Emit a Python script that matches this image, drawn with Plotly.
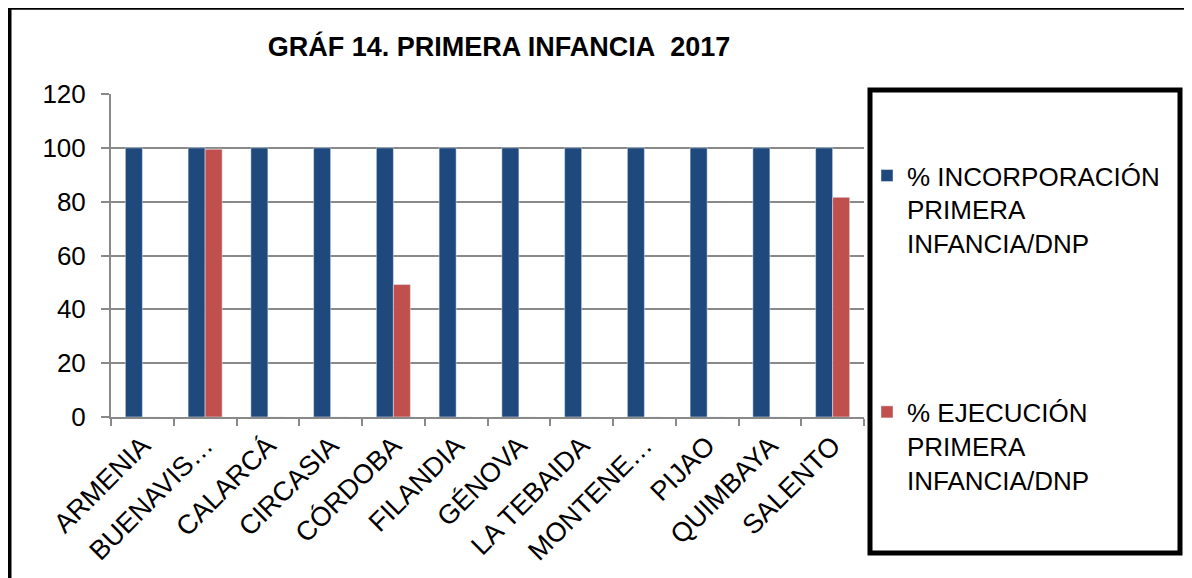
import plotly.graph_objects as go

# ---- data ----
municipios = ["ARMENIA", "BUENAVIS…", "CALARCÁ", "CIRCASIA", "CÓRDOBA", "FILANDIA",
              "GÉNOVA", "LA TEBAIDA", "MONTENE…", "PIJAO", "QUIMBAYA", "SALENTO"]
incorporacion = [100, 100, 100, 100, 100, 100, 100, 100, 100, 100, 100, 100]
ejecucion = [0, 99.5, 0, 0, 49.2, 0, 0, 0, 0, 0, 0, 81.6]
serie_names = ["% INCORPORACIÓN<br>PRIMERA<br>INFANCIA/DNP",
               "% EJECUCIÓN<br>PRIMERA<br>INFANCIA/DNP"]
y_ticks = [0, 20, 40, 60, 80, 100, 120]
title_text = "GRÁF 14. PRIMERA INFANCIA\u00a0 2017"

OFF = 8  # page body margin in the browser
W, H = 1192 - OFF, 578 - OFF
ML, MR, MT, MB = 111 - OFF, 1192 - 864, 94 - OFF, 578 - 422
PW, PH = W - ML - MR, H - MT - MB

def px(x):
    return (x - OFF - ML) / PW

def py(y):
    return 1 - (y - OFF - MT) / PH

FONT = "Arial, Liberation Sans, sans-serif"
GRAY = "#898989"

fig = go.Figure()
fig.add_trace(go.Bar(x=municipios, y=incorporacion, name=serie_names[0],
                     marker=dict(color="#1F497D"), legendgroup="a"))
fig.add_trace(go.Bar(x=municipios, y=ejecucion, name=serie_names[1],
                     marker=dict(color="#C0504D"), legendgroup="b"))

shapes = [
    # outer chart border
    dict(type="rect", xref="paper", yref="paper", x0=px(9), x1=px(1215), y0=py(6), y1=py(600),
         line=dict(color="black", width=5), layer="below"),
    # legend box
    dict(type="rect", xref="paper", yref="paper", x0=px(870), x1=px(1180), y0=py(90), y1=py(560),
         line=dict(color="black", width=5)),
]

fig.update_layout(
    width=W, height=H,
    margin=dict(l=ML, r=MR, t=MT, b=MB),
    paper_bgcolor="white", plot_bgcolor="white",
    font=dict(family=FONT, color="black", size=25),
    barmode="group", bargap=0.458, bargroupgap=0,
    title=dict(text="<b>" + title_text + "</b>", x=(499 - OFF) / W, xanchor="center",
               xref="container", yref="container", y=1 - (47 - OFF) / H, yanchor="middle",
               font=dict(size=27, family=FONT, color="black")),
    legend=dict(x=px(867), xanchor="left", y=py(153), yanchor="top",
                font=dict(size=26, family=FONT, color="black"),
                valign="top", tracegroupgap=132, bgcolor="rgba(0,0,0,0)",
                traceorder="grouped", maxheight=520),
    shapes=shapes,
    xaxis=dict(showgrid=False, showline=True, linecolor=GRAY, linewidth=2,
               ticks="outside", tickson="boundaries", ticklen=7, tickcolor=GRAY, tickwidth=2,
               tickangle=-45, tickfont=dict(size=27, family=FONT, color="black"),
               fixedrange=True),
    yaxis=dict(range=[0, 120], tickvals=y_ticks, showgrid=True, gridcolor=GRAY, gridwidth=2,
               showline=True, linecolor=GRAY, linewidth=2, zeroline=False,
               ticks="outside", ticklen=8, tickcolor=GRAY, tickwidth=2,
               ticklabelstandoff=10,
               tickfont=dict(size=26, family=FONT, color="black"), fixedrange=True),
)

fig.write_html("out.html")
